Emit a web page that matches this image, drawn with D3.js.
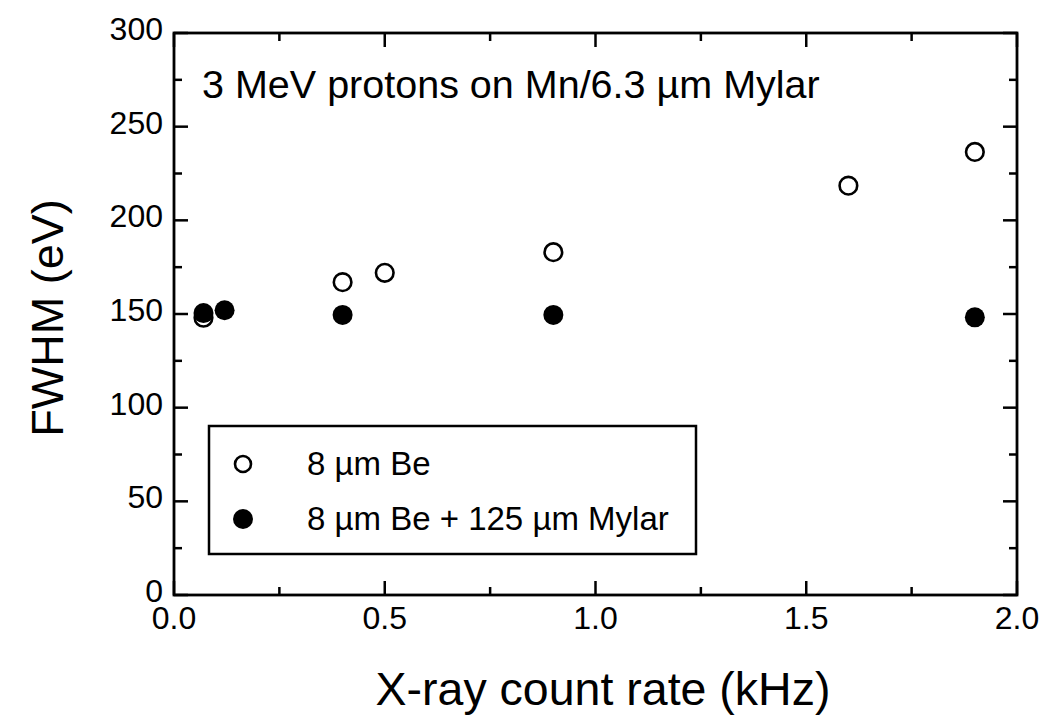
<!DOCTYPE html>
<html>
<head>
<meta charset="utf-8">
<script src="https://cdn.jsdelivr.net/npm/d3@7"></script>
<style>
  body { margin: 0; background: #fff; }
  text { font-family: "Liberation Sans", Arial, Helvetica, sans-serif; fill: #000; }
</style>
</head>
<body>
<svg id="chart" width="1060" height="715"></svg>
<script>
// 8 um Be window (open circles)
const beRate = [0.07, 0.40, 0.50, 0.90, 1.60, 1.90];
const beFwhm = [148, 167, 172, 183, 218.5, 236.5];
// 8 um Be + 125 um Mylar (filled circles)
const mylarRate = [0.07, 0.12, 0.40, 0.90, 1.90];
const mylarFwhm = [150.5, 152, 149.5, 149.5, 148.2];

const xMajor = [0, 0.5, 1.0, 1.5, 2.0];
const yMajor = [0, 50, 100, 150, 200, 250, 300];
const legendLabels = ["8 µm Be", "8 µm Be + 125 µm Mylar"];
const note = "3 MeV protons on Mn/6.3 µm Mylar";

const plotL = 174, plotR = 1017, plotT = 33, plotB = 595;

const svg = d3.select("#chart");
const x = d3.scaleLinear().domain([0, 2]).range([plotL, plotR]);
const y = d3.scaleLinear().domain([0, 300]).range([plotB, plotT]);

const minorX = d3.range(0, 2.0001, 0.25).filter(v => !xMajor.some(m => Math.abs(m - v) < 1e-6));
const minorY = d3.range(0, 300.1, 25).filter(v => yMajor.indexOf(v) < 0);

// ticks, all pointing inward on all four sides
const ticks = svg.append("g").attr("stroke", "#000").attr("stroke-width", 2.5);
function xTicks(vals, len) {
  vals.forEach(v => {
    ticks.append("line").attr("x1", x(v)).attr("x2", x(v)).attr("y1", plotB).attr("y2", plotB - len);
    ticks.append("line").attr("x1", x(v)).attr("x2", x(v)).attr("y1", plotT).attr("y2", plotT + len);
  });
}
function yTicks(vals, len) {
  vals.forEach(v => {
    ticks.append("line").attr("y1", y(v)).attr("y2", y(v)).attr("x1", plotL).attr("x2", plotL + len);
    ticks.append("line").attr("y1", y(v)).attr("y2", y(v)).attr("x1", plotR).attr("x2", plotR - len);
  });
}
xTicks(xMajor, 14);
xTicks(minorX, 8);
yTicks(yMajor, 14);
yTicks(minorY, 8);

svg.append("rect")
  .attr("x", plotL).attr("y", plotT)
  .attr("width", plotR - plotL).attr("height", plotB - plotT)
  .attr("fill", "none").attr("stroke", "#000").attr("stroke-width", 2.8);

// tick labels
svg.append("g").selectAll("text").data(xMajor).enter().append("text")
  .attr("x", d => x(d)).attr("y", 629)
  .attr("text-anchor", "middle").attr("font-size", 32)
  .text(d => d3.format(".1f")(d));

svg.append("g").selectAll("text").data(yMajor).enter().append("text")
  .attr("x", 163).attr("y", d => y(d) + 7)
  .attr("text-anchor", "end").attr("font-size", 32)
  .text(d => d);

// axis titles
svg.append("text")
  .attr("x", 603).attr("y", 705)
  .attr("text-anchor", "middle").attr("font-size", 46.5)
  .text("X-ray count rate (kHz)");

svg.append("text")
  .attr("transform", "translate(63," + 318 + ") rotate(-90)")
  .attr("text-anchor", "middle").attr("font-size", 45)
  .text("FWHM (eV)");

svg.append("text")
  .attr("x", 202).attr("y", 98)
  .attr("font-size", 39.5)
  .text(note);

// data
svg.append("g").selectAll("circle").data(d3.zip(beRate, beFwhm)).enter().append("circle")
  .attr("cx", d => x(d[0])).attr("cy", d => y(d[1])).attr("r", 8.8)
  .attr("fill", "#fff").attr("stroke", "#000").attr("stroke-width", 2.6);

svg.append("g").selectAll("circle").data(d3.zip(mylarRate, mylarFwhm)).enter().append("circle")
  .attr("cx", d => x(d[0])).attr("cy", d => y(d[1])).attr("r", 10)
  .attr("fill", "#000");

// legend
const lg = svg.append("g");
lg.append("rect")
  .attr("x", 209).attr("y", 426).attr("width", 487).attr("height", 128)
  .attr("fill", "#fff").attr("stroke", "#000").attr("stroke-width", 2.5);
const rows = [464, 519];
lg.append("circle").attr("cx", 243).attr("cy", rows[0]).attr("r", 8)
  .attr("fill", "#fff").attr("stroke", "#000").attr("stroke-width", 2.6);
lg.append("circle").attr("cx", 243).attr("cy", rows[1]).attr("r", 10).attr("fill", "#000");
legendLabels.forEach((t, i) => {
  lg.append("text").attr("x", 307).attr("y", rows[i] + 11).attr("font-size", 33).text(t);
});
</script>
</body>
</html>
